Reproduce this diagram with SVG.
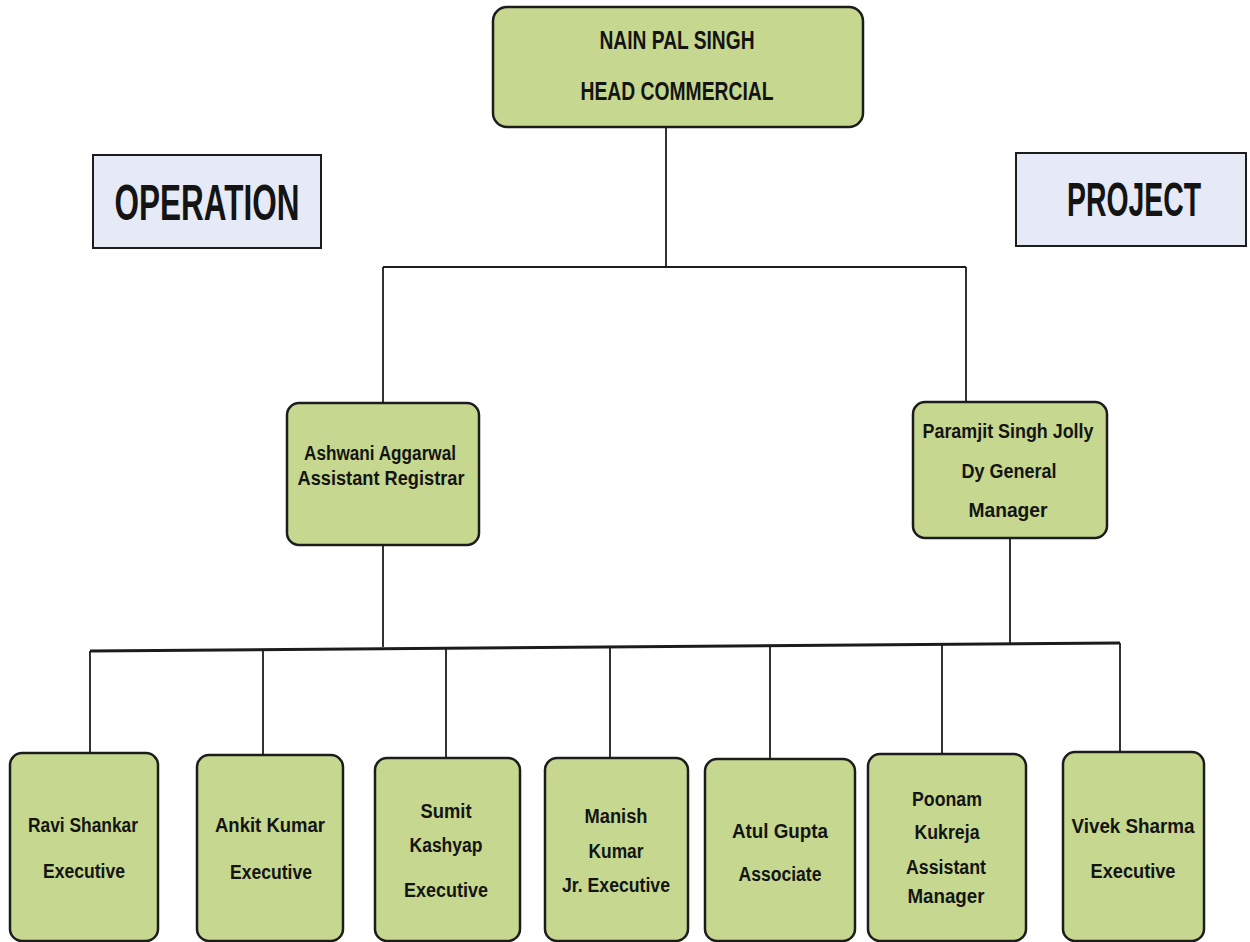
<svg xmlns="http://www.w3.org/2000/svg" width="1250" height="942" viewBox="0 0 1250 942">
<style>
.node{fill:#c6d88f;stroke:#1c1c1c;stroke-width:2.5}
.label{fill:#e6eaf6;stroke:#1c1c1c;stroke-width:2}
text{font-family:"Liberation Sans",Arial,sans-serif;font-weight:bold;fill:#141414;text-anchor:middle}
.t{font-size:20px}
.h{font-size:25px}
.big{font-size:50px}
.conn line{stroke:#1c1c1c;stroke-width:1.8}
</style>
<rect width="1250" height="942" fill="#ffffff"/>
<g id="connectors" class="conn">
<line x1="666" y1="127" x2="666" y2="267"/>
<line x1="383" y1="267" x2="966" y2="267"/>
<line x1="383" y1="267" x2="383" y2="403"/>
<line x1="966" y1="267" x2="966" y2="402"/>
<line x1="383" y1="545" x2="383" y2="647"/>
<line x1="1010" y1="538" x2="1010" y2="643"/>
<line x1="90" y1="651" x2="1120" y2="643" style="stroke-width:3"/>
<line x1="90" y1="651" x2="90" y2="753"/>
<line x1="263" y1="650" x2="263" y2="755"/>
<line x1="446" y1="648" x2="446" y2="758"/>
<line x1="610" y1="647" x2="610" y2="758"/>
<line x1="770" y1="646" x2="770" y2="759"/>
<line x1="942" y1="644" x2="942" y2="760"/>
<line x1="1120" y1="643" x2="1120" y2="752"/>
</g>
<g id="head">
<rect class="node" x="493" y="7" width="370" height="120" rx="14"/>
<text class="h" x="677" y="49" textLength="155" lengthAdjust="spacingAndGlyphs">NAIN PAL SINGH</text>
<text class="h" x="677" y="100" textLength="193" lengthAdjust="spacingAndGlyphs">HEAD COMMERCIAL</text>
</g>
<g id="operation">
<rect class="label" x="93" y="155" width="228" height="93"/>
<text class="big" x="207" y="220" textLength="185" lengthAdjust="spacingAndGlyphs">OPERATION</text>
</g>
<g id="project">
<rect class="label" x="1016" y="153" width="230" height="93"/>
<text class="big" style="font-size:48px" x="1134" y="216" textLength="134" lengthAdjust="spacingAndGlyphs">PROJECT</text>
</g>
<g id="ashwani">
<rect class="node" x="287" y="403" width="192" height="142" rx="12"/>
<text class="t" x="380" y="460" textLength="152" lengthAdjust="spacingAndGlyphs">Ashwani Aggarwal</text>
<text class="t" x="381" y="485" textLength="167" lengthAdjust="spacingAndGlyphs">Assistant Registrar</text>
</g>
<g id="paramjit">
<rect class="node" x="913" y="402" width="194" height="136" rx="12"/>
<text class="t" x="1008" y="438" textLength="171" lengthAdjust="spacingAndGlyphs">Paramjit Singh Jolly</text>
<text class="t" x="1009" y="478" textLength="95" lengthAdjust="spacingAndGlyphs">Dy General</text>
<text class="t" x="1008" y="517" textLength="79" lengthAdjust="spacingAndGlyphs">Manager</text>
</g>
<g id="ravi">
<rect class="node" x="10" y="753" width="148" height="188" rx="12"/>
<text class="t" x="83" y="832" textLength="110" lengthAdjust="spacingAndGlyphs">Ravi Shankar</text>
<text class="t" x="84" y="878" textLength="82" lengthAdjust="spacingAndGlyphs">Executive</text>
</g>
<g id="ankit">
<rect class="node" x="197" y="755" width="146" height="186" rx="12"/>
<text class="t" x="270" y="832" textLength="110" lengthAdjust="spacingAndGlyphs">Ankit Kumar</text>
<text class="t" x="271" y="879" textLength="82" lengthAdjust="spacingAndGlyphs">Executive</text>
</g>
<g id="sumit">
<rect class="node" x="375" y="758" width="145" height="183" rx="12"/>
<text class="t" x="446" y="818" textLength="51" lengthAdjust="spacingAndGlyphs">Sumit</text>
<text class="t" x="446" y="852" textLength="73" lengthAdjust="spacingAndGlyphs">Kashyap</text>
<text class="t" x="446" y="897" textLength="84" lengthAdjust="spacingAndGlyphs">Executive</text>
</g>
<g id="manish">
<rect class="node" x="545" y="758" width="143" height="183" rx="12"/>
<text class="t" x="616" y="823" textLength="63" lengthAdjust="spacingAndGlyphs">Manish</text>
<text class="t" x="616" y="858" textLength="55" lengthAdjust="spacingAndGlyphs">Kumar</text>
<text class="t" x="616" y="892" textLength="108" lengthAdjust="spacingAndGlyphs">Jr. Executive</text>
</g>
<g id="atul">
<rect class="node" x="705" y="759" width="150" height="182" rx="12"/>
<text class="t" x="780" y="838" textLength="96" lengthAdjust="spacingAndGlyphs">Atul Gupta</text>
<text class="t" x="780" y="881" textLength="83" lengthAdjust="spacingAndGlyphs">Associate</text>
</g>
<g id="poonam">
<rect class="node" x="868" y="754" width="158" height="187" rx="12"/>
<text class="t" x="947" y="806" textLength="70" lengthAdjust="spacingAndGlyphs">Poonam</text>
<text class="t" x="947" y="839" textLength="65" lengthAdjust="spacingAndGlyphs">Kukreja</text>
<text class="t" x="946" y="874" textLength="80" lengthAdjust="spacingAndGlyphs">Assistant</text>
<text class="t" x="946" y="903" textLength="77" lengthAdjust="spacingAndGlyphs">Manager</text>
</g>
<g id="vivek">
<rect class="node" x="1063" y="752" width="141" height="189" rx="12"/>
<text class="t" x="1133" y="833" textLength="123" lengthAdjust="spacingAndGlyphs">Vivek Sharma</text>
<text class="t" x="1133" y="878" textLength="85" lengthAdjust="spacingAndGlyphs">Executive</text>
</g>
</svg>
